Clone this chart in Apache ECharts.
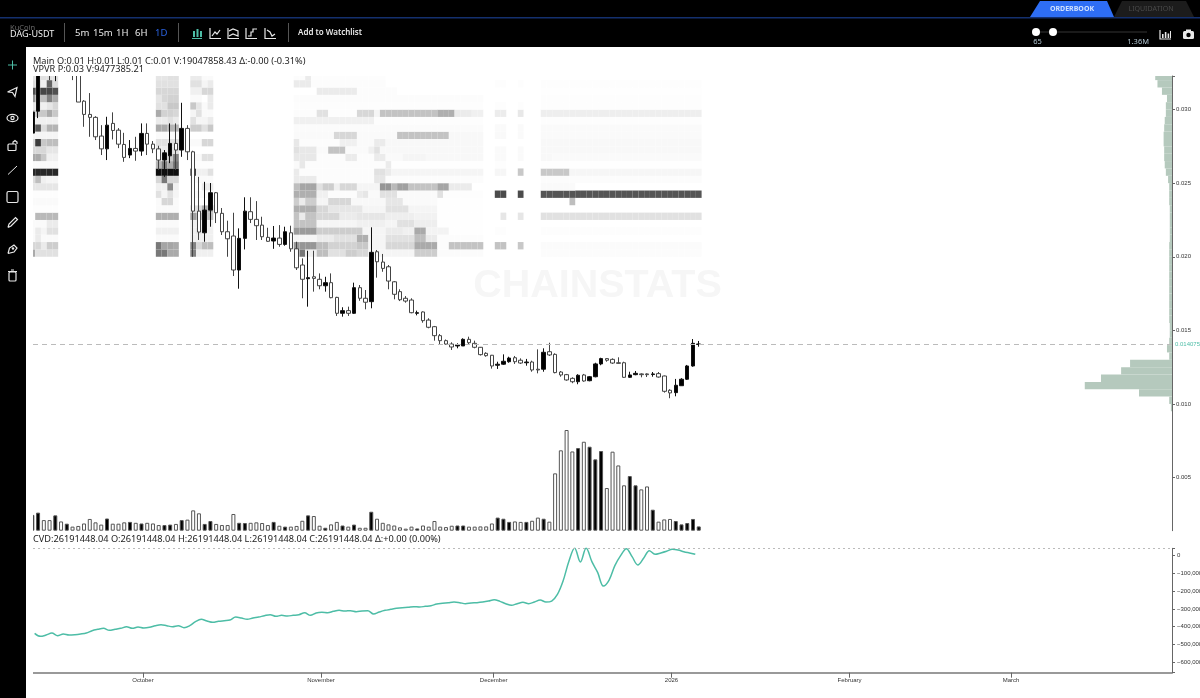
<!DOCTYPE html>
<html>
<head>
<meta charset="utf-8">
<title>DAG-USDT</title>
<style>
html, body { margin: 0; padding: 0; background: #fff; }
#chart { width: 1200px; height: 698px; }
</style>
<script src="https://cdn.jsdelivr.net/npm/echarts@6/dist/echarts.min.js"></script>
</head>
<body>
<div id="chart"></div>
<script>
// daily slots, slot 0 is the first whole candle on screen
const firstSlot = -1
const slotMin = -0.8825
const slotMax = 197.38

const monthSlots = [18.26, 49.25, 79.3, 110.26, 141.26, 169.35]
const monthLabels = ["October", "November", "December", "2026", "February", "March"]

const priceTicks = [0.005, 0.01, 0.015, 0.02, 0.025, 0.03]
const cvdTicks = [0, -100000, -200000, -300000, -400000, -500000, -600000]
const lastPrice = 0.014075

// open, close, low, high
const candles = [
    [0.02840, 0.02983, 0.02827, 0.02996],
    [0.02989, 0.03336, 0.02942, 0.03400],
    [0.03500, 0.03400, 0.03300, 0.03520],
    [0.03400, 0.03300, 0.03200, 0.03420],
    [0.03300, 0.03400, 0.03193, 0.03450],
    [0.03480, 0.03380, 0.03290, 0.03500],
    [0.03300, 0.03420, 0.03260, 0.03450],
    [0.03500, 0.03400, 0.03200, 0.03520],
    [0.03336, 0.03051, 0.03051, 0.03400],
    [0.03057, 0.02967, 0.02883, 0.03064],
    [0.02967, 0.02947, 0.02815, 0.03112],
    [0.02947, 0.02815, 0.02793, 0.02955],
    [0.02820, 0.02733, 0.02691, 0.02894],
    [0.02733, 0.02894, 0.02657, 0.02951],
    [0.02906, 0.02858, 0.02797, 0.02981],
    [0.02860, 0.02765, 0.02738, 0.02874],
    [0.02763, 0.02675, 0.02645, 0.02842],
    [0.02691, 0.02736, 0.02670, 0.02793],
    [0.02736, 0.02718, 0.02652, 0.02815],
    [0.02718, 0.02838, 0.02686, 0.02906],
    [0.02838, 0.02765, 0.02691, 0.02906],
    [0.02765, 0.02733, 0.02704, 0.02786],
    [0.02733, 0.02657, 0.02589, 0.02754],
    [0.02657, 0.02706, 0.02543, 0.02725],
    [0.02686, 0.02770, 0.02636, 0.02906],
    [0.02770, 0.02725, 0.02589, 0.02906],
    [0.02725, 0.02872, 0.02679, 0.03046],
    [0.02872, 0.02713, 0.02657, 0.02894],
    [0.02713, 0.02310, 0.02000, 0.02720],
    [0.02310, 0.02168, 0.02114, 0.02543],
    [0.02163, 0.02317, 0.02102, 0.02509],
    [0.02317, 0.02435, 0.02204, 0.02501],
    [0.02435, 0.02299, 0.02229, 0.02440],
    [0.02295, 0.02170, 0.02148, 0.02331],
    [0.02170, 0.02122, 0.02000, 0.02245],
    [0.02141, 0.01910, 0.01869, 0.02299],
    [0.01910, 0.02125, 0.01783, 0.02193],
    [0.02125, 0.02310, 0.02050, 0.02404],
    [0.02306, 0.02254, 0.02229, 0.02404],
    [0.02254, 0.02211, 0.02114, 0.02378],
    [0.02215, 0.02136, 0.02114, 0.02272],
    [0.02132, 0.02105, 0.02102, 0.02197],
    [0.02107, 0.02127, 0.02054, 0.02209],
    [0.02127, 0.02084, 0.02068, 0.02215],
    [0.02084, 0.02170, 0.02075, 0.02204],
    [0.02163, 0.02054, 0.02034, 0.02211],
    [0.02054, 0.01925, 0.01910, 0.02102],
    [0.01944, 0.01847, 0.01718, 0.01989],
    [0.01851, 0.01858, 0.01661, 0.02041],
    [0.01864, 0.01853, 0.01763, 0.02041],
    [0.01847, 0.01803, 0.01779, 0.01887],
    [0.01803, 0.01824, 0.01763, 0.01864],
    [0.01824, 0.01722, 0.01718, 0.01887],
    [0.01724, 0.01616, 0.01598, 0.01728],
    [0.01616, 0.01634, 0.01593, 0.01657],
    [0.01634, 0.01616, 0.01598, 0.01661],
    [0.01616, 0.01790, 0.01611, 0.01824],
    [0.01790, 0.01718, 0.01701, 0.01808],
    [0.01718, 0.01691, 0.01643, 0.01774],
    [0.01695, 0.02030, 0.01650, 0.02200],
    [0.02034, 0.01966, 0.01858, 0.02046],
    [0.01964, 0.01921, 0.01898, 0.02019],
    [0.01932, 0.01835, 0.01779, 0.01944],
    [0.01830, 0.01745, 0.01711, 0.01835],
    [0.01763, 0.01708, 0.01699, 0.01779],
    [0.01718, 0.01699, 0.01688, 0.01733],
    [0.01706, 0.01620, 0.01616, 0.01718],
    [0.01616, 0.01620, 0.01602, 0.01634],
    [0.01625, 0.01566, 0.01552, 0.01629],
    [0.01570, 0.01521, 0.01514, 0.01582],
    [0.01525, 0.01464, 0.01430, 0.01530],
    [0.01464, 0.01430, 0.01407, 0.01475],
    [0.01430, 0.01407, 0.01403, 0.01438],
    [0.01407, 0.01387, 0.01367, 0.01419],
    [0.01394, 0.01401, 0.01378, 0.01412],
    [0.01394, 0.01439, 0.01394, 0.01446],
    [0.01439, 0.01416, 0.01407, 0.01457],
    [0.01412, 0.01385, 0.01378, 0.01430],
    [0.01385, 0.01335, 0.01329, 0.01387],
    [0.01344, 0.01328, 0.01321, 0.01351],
    [0.01331, 0.01258, 0.01240, 0.01333],
    [0.01263, 0.01270, 0.01238, 0.01287],
    [0.01270, 0.01290, 0.01265, 0.01337],
    [0.01287, 0.01312, 0.01280, 0.01321],
    [0.01314, 0.01287, 0.01272, 0.01326],
    [0.01297, 0.01278, 0.01272, 0.01310],
    [0.01280, 0.01285, 0.01260, 0.01306],
    [0.01285, 0.01231, 0.01219, 0.01294],
    [0.01236, 0.01231, 0.01208, 0.01371],
    [0.01236, 0.01351, 0.01219, 0.01378],
    [0.01355, 0.01333, 0.01326, 0.01416],
    [0.01337, 0.01213, 0.01208, 0.01344],
    [0.01217, 0.01197, 0.01185, 0.01224],
    [0.01199, 0.01163, 0.01158, 0.01204],
    [0.01174, 0.01151, 0.01141, 0.01181],
    [0.01151, 0.01195, 0.01134, 0.01202],
    [0.01197, 0.01156, 0.01151, 0.01204],
    [0.01158, 0.01185, 0.01154, 0.01190],
    [0.01185, 0.01272, 0.01181, 0.01280],
    [0.01272, 0.01308, 0.01263, 0.01314],
    [0.01308, 0.01297, 0.01287, 0.01312],
    [0.01303, 0.01278, 0.01272, 0.01310],
    [0.01280, 0.01276, 0.01274, 0.01317],
    [0.01280, 0.01181, 0.01177, 0.01287],
    [0.01181, 0.01197, 0.01177, 0.01219],
    [0.01199, 0.01208, 0.01195, 0.01224],
    [0.01204, 0.01199, 0.01181, 0.01208],
    [0.01204, 0.01199, 0.01183, 0.01208],
    [0.01200, 0.01204, 0.01185, 0.01217],
    [0.01206, 0.01183, 0.01179, 0.01217],
    [0.01190, 0.01086, 0.01077, 0.01193],
    [0.01093, 0.01075, 0.01039, 0.01100],
    [0.01077, 0.01127, 0.01052, 0.01170],
    [0.01124, 0.01168, 0.01122, 0.01175],
    [0.01168, 0.01258, 0.01163, 0.01265],
    [0.01258, 0.01412, 0.01253, 0.01441],
    [0.01404, 0.014075, 0.01389, 0.01428],
]

// millions of DAG, one per candle
const volumes = [
    70, 80, 47, 47, 68, 41, 31, 18, 21, 32, 52, 37, 27, 54, 31, 31, 37, 39, 35, 32,
    35, 32, 25, 25, 27, 30, 47, 49, 90, 77, 30, 43, 30, 25, 25, 74, 35, 34, 35, 37,
    34, 25, 39, 22, 18, 18, 21, 44, 68, 65, 22, 13, 28, 39, 23, 18, 27, 13, 13, 84,
    53, 35, 28, 23, 15, 9, 18, 10, 23, 18, 43, 18, 16, 22, 23, 23, 18, 18, 19, 19,
    32, 58, 53, 39, 41, 39, 39, 44, 58, 53, 40, 254, 356, 446, 351, 366, 394, 372, 316, 353,
    189, 350, 289, 201, 242, 201, 183, 196, 93, 40, 50, 52, 43, 28, 34, 52, 19,
]

const cvdOffset = 0.4
const cvd = [
    -437400, -454300, -446800, -435500, -450500, -441100, -446800, -444900, -441100, -435500,
    -422300, -414800, -409200, -420500, -414800, -409200, -399800, -409200, -401700, -407400,
    -403600, -394200, -388600, -394200, -399800, -394200, -405500, -394200, -371600, -358500,
    -367900, -375400, -369800, -366000, -362300, -345400, -351000, -358500, -351000, -345400,
    -337900, -332200, -341600, -336000, -339700, -336000, -332200, -321000, -336000, -322800,
    -319100, -321000, -313400, -307800, -311600, -309700, -315400, -311600, -309700, -328500,
    -317200, -307800, -302100, -296500, -292800, -290900, -287100, -289000, -285300, -281500,
    -272100, -268400, -264600, -260900, -264600, -270200, -266500, -264600, -260900, -255200,
    -247700, -257100, -270200, -279600, -270200, -262700, -270200, -260900, -249600, -260900,
    -255200, -217700, -140700, -31700, 43400, -35500, 43400, -33600, -93700, -170700,
    -136900, -56200, 200, 39600, -5400, -52400, -14800, 28400, 7700, 15200,
    24600, 35900, 32100, 22700, 15200, 7700,
]

// volume profile, millions per 0.0005 bin, starting at 0.0095
const vpvrFirstPrice = 0.0095
const vpvrBin = 0.0005
const vpvr = [
    2, 5, 59, 156, 127, 91, 75, 5, 9, 5, 4, 4, 5, 5, 5, 5, 5, 5, 5, 5, 5,
    5, 5, 4, 4, 4, 4, 4, 5, 5, 5,
    7, 11, 13, 14, 14, 15, 15, 14, 13, 11, 11, 9, 18, 26, 30,
]

// order book depth, 25 rows of 0.0005 starting at 0.0200
const heatFirstPrice = 0.02
const heatBlockA = [
    [85, 30, 30, 30, 30], [40, 40, 20, 50, 50], [5, 20, 5, 5, 5], [5, 20, 10, 30, 30], [5, 5, 5, 20, 20],
    [0, 70, 70, 70, 70], [2, 2, 2, 2, 2], [5, 5, 5, 5, 5], [2, 2, 2, 2, 2], [25, 25, 25, 25, 25],
    [35, 65, 15, 10, 10], [215, 215, 215, 215, 215], [5, 5, 5, 5, 5], [85, 85, 55, 15, 15], [40, 40, 40, 25, 25],
    [35, 195, 55, 65, 65], [10, 10, 10, 10, 10], [25, 165, 35, 75, 75], [15, 15, 15, 15, 15], [55, 55, 55, 85, 55],
    [25, 25, 15, 25, 40], [105, 65, 65, 125, 85], [175, 155, 185, 185, 175], [35, 35, 15, 155, 35], [30, 30, 30, 30, 30],
]
const heatBlockB = [
    [135, 135, 85, 85], [135, 90, 90, 85], [5, 5, 5, 5], [15, 15, 15, 15], [5, 5, 5, 5],
    [80, 80, 80, 80], [5, 5, 5, 5], [5, 40, 40, 5], [30, 10, 30, 10], [15, 15, 115, 15],
    [40, 135, 40, 40], [240, 240, 240, 240], [75, 135, 85, 145], [30, 30, 55, 125], [20, 20, 30, 30],
    [30, 30, 30, 30], [5, 5, 5, 5], [85, 85, 75, 75], [20, 20, 30, 20], [85, 45, 45, 40],
    [30, 30, 55, 55], [25, 40, 45, 45], [40, 40, 40, 40], [30, 30, 30, 30], [25, 25, 30, 30],
]
const heatBlockC = [
    [125, 15, 15, 15], [125, 40, 65, 65], [15, 15, 15, 15], [15, 25, 15, 15], [15, 15, 15, 15],
    [95, 70, 90, 65], [30, 30, 80, 80], [0, 0, 0, 0], [5, 5, 5, 5], [0, 0, 20, 20],
    [5, 5, 5, 5], [195, 15, 15, 30], [2, 2, 2, 2], [5, 5, 30, 30], [0, 0, 0, 0],
    [5, 5, 40, 40], [0, 0, 0, 0], [50, 50, 30, 55], [30, 10, 10, 20], [10, 30, 5, 5],
    [55, 25, 5, 20], [5, 5, 0, 20], [15, 15, 40, 40], [30, 30, 10, 20], [20, 20, 5, 5],
]
const heatBlockAStart = -1
const heatBlockBStart = 21
const heatBlockCStart = 27
// [first slot, last slot, depth] runs for the long walls on the right
const heatRuns = [
    [[45, 45, 20], [46, 46, 135], [47, 48, 15], [49, 50, 65], [51, 53, 30], [54, 55, 50], [56, 57, 40], [58, 65, 10], [66, 69, 50], [70, 77, 4], [88, 115, 3]],
    [[45, 48, 105], [49, 50, 65], [51, 55, 45], [56, 57, 55], [58, 60, 10], [61, 65, 40], [66, 69, 85], [70, 71, 3], [72, 77, 60], [80, 81, 60], [84, 84, 55], [88, 115, 4]],
    [[45, 48, 10], [49, 51, 20], [52, 55, 30], [56, 57, 80], [58, 60, 10], [61, 65, 30], [66, 67, 65], [68, 69, 20], [70, 77, 3]],
    [[45, 48, 100], [49, 56, 50], [57, 60, 10], [61, 63, 20], [64, 65, 15], [66, 67, 85], [68, 71, 12], [72, 77, 1], [80, 81, 2], [88, 115, 2]],
    [[45, 48, 60], [49, 55, 10], [56, 60, 15], [61, 62, 10], [63, 65, 30], [66, 69, 17], [70, 77, 1]],
    [[45, 45, 60], [46, 46, 20], [47, 48, 60], [49, 52, 40], [53, 55, 20], [56, 60, 25], [61, 65, 17], [66, 69, 13], [70, 77, 1], [81, 81, 25], [84, 84, 25], [88, 115, 30]],
    [[45, 48, 80], [49, 50, 40], [51, 56, 25], [57, 60, 10], [61, 64, 30], [65, 69, 10], [70, 77, 1]],
    [[45, 45, 50], [46, 46, 20], [47, 48, 50], [49, 50, 10], [51, 54, 40], [55, 60, 7], [61, 63, 25], [64, 69, 5], [70, 77, 1], [93, 93, 65]],
    [[45, 48, 80], [49, 50, 15], [51, 55, 3], [56, 56, 20], [57, 57, 25], [58, 59, 5], [60, 62, 30], [63, 69, 5], [70, 70, 30], [71, 77, 2], [80, 81, 180], [84, 84, 180], [88, 115, 170]],
    [[45, 45, 65], [46, 48, 90], [49, 49, 30], [50, 51, 50], [52, 52, 15], [53, 55, 40], [56, 59, 10], [60, 61, 105], [62, 62, 70], [63, 64, 95], [65, 69, 60], [70, 71, 90], [72, 75, 20], [88, 93, 5]],
    [[45, 48, 20], [49, 55, 3], [56, 58, 3], [59, 60, 25], [61, 77, 3], [88, 115, 3]],
    [[45, 45, 20], [46, 58, 3], [59, 60, 30], [61, 61, 20], [62, 77, 10], [80, 81, 9], [84, 84, 55], [88, 92, 55], [93, 115, 9]],
    [[45, 45, 5], [46, 46, 23], [47, 60, 3], [61, 61, 20], [62, 77, 1], [80, 81, 2], [88, 115, 1]],
    [[45, 48, 23], [49, 53, 3], [54, 55, 20], [56, 58, 3], [59, 60, 20], [61, 63, 5], [64, 67, 10], [68, 77, 7], [80, 81, 5], [84, 84, 5], [88, 89, 7], [90, 115, 5]],
    [[45, 45, 30], [46, 48, 23], [49, 50, 5], [51, 53, 60], [54, 57, 5], [58, 58, 15], [59, 59, 30], [60, 77, 7], [80, 81, 5], [84, 84, 5], [88, 115, 7]],
    [[45, 45, 23], [46, 52, 3], [53, 55, 15], [56, 58, 5], [59, 60, 20], [61, 77, 7], [88, 115, 7]],
    [[45, 51, 5], [52, 55, 40], [56, 62, 5], [63, 71, 60], [72, 77, 7], [80, 81, 6], [84, 84, 5], [88, 115, 5]],
    [[45, 77, 4], [80, 81, 5], [84, 84, 5], [88, 115, 5]],
    [[45, 58, 15], [59, 77, 2], [88, 115, 2]],
    [[45, 48, 3], [49, 50, 30], [51, 55, 2], [56, 58, 40], [59, 59, 10], [60, 69, 60], [70, 72, 80], [73, 75, 20], [76, 77, 15], [80, 81, 19], [84, 84, 23], [88, 115, 17]],
    [[45, 77, 2], [80, 81, 2], [84, 84, 2], [88, 115, 2]],
    [[45, 77, 3], [88, 115, 2]],
    [[49, 55, 20], [56, 62, 3], [88, 115, 1]],
    [[45, 47, 20], [48, 60, 3], [80, 81, 2], [84, 84, 2], [88, 115, 2]],
    [[45, 46, 3], [47, 47, 20], [48, 60, 2]],
]

// axis ends, worked out from the tick positions in the picture
const priceMin = 0.00139
const priceMax = 0.03228
const volumeMax = 2014
const vpvrMax = 2037
const cvdMin = -659000
const cvdMax = 41700

const labelFont = "Liberation Sans"
const uiFont = "Noto Sans"
const teal = "#4dbda6"
const axisGrey = "#666"

function buildHeatCells() {
    let cells = []
    for (let k = 0; k < heatRuns.length; k++) {
        let low = heatFirstPrice + k * vpvrBin
        heatBlockA[k].forEach((d, c) => cells.push([heatBlockAStart + c, low, d]))
        heatBlockB[k].forEach((d, c) => cells.push([heatBlockBStart + c, low, d]))
        heatBlockC[k].forEach((d, c) => cells.push([heatBlockCStart + c, low, d]))
        heatRuns[k].forEach(run => {
            for (let s = run[0]; s <= run[1]; s++) cells.push([s, low, run[2]])
        })
    }
    return cells
}

function renderHeatCell(params, api) {
    let a = api.coord([api.value(0) - 0.5, api.value(1) + vpvrBin])
    let b = api.coord([api.value(0) + 0.5, api.value(1)])
    let shape = echarts.graphic.clipRectByRect(
        { x: a[0], y: a[1], width: b[0] - a[0], height: b[1] - a[1] },
        params.coordSys
    )
    if (!shape) return
    let g = 255 - api.value(2)
    return { type: "rect", shape: shape, style: { fill: "rgb(" + g + "," + g + "," + g + ")" } }
}

function renderVpvrBar(params, api) {
    let a = api.coord([api.value(1), api.value(0) + vpvrBin])
    let b = api.coord([0, api.value(0)])
    let shape = echarts.graphic.clipRectByRect(
        { x: a[0], y: a[1], width: b[0] - a[0], height: b[1] - a[1] },
        params.coordSys
    )
    if (!shape) return
    return { type: "rect", shape: shape, style: { fill: "#b5c9bd" } }
}

// header and tool bar are plain drawn elements
function txt(x, y, text, size, fill, align, weight) {
    return { type: "text", x: x, y: y, z: 20, silent: true, style: {
        text: text, fill: fill, align: align || "left", verticalAlign: "middle",
        font: (weight || "normal") + " " + size + "px '" + uiFont + "'",
    }}
}
function ln(x1, y1, x2, y2, color, width) {
    return { type: "line", z: 20, silent: true, shape: { x1: x1, y1: y1, x2: x2, y2: y2 },
        style: { stroke: color, lineWidth: width || 1 } }
}
function box(x, y, w, h, color, r) {
    return { type: "rect", z: 15, silent: true, shape: { x: x, y: y, width: w, height: h, r: r || 0 },
        style: { fill: color } }
}
function outline(x, y, w, h, color, r) {
    return { type: "rect", z: 20, silent: true, shape: { x: x, y: y, width: w, height: h, r: r || 0 },
        style: { fill: "transparent", stroke: color, lineWidth: 1.2 } }
}
function poly(points, color, fill) {
    return { type: fill ? "polygon" : "polyline", z: 20, silent: true, shape: { points: points },
        style: fill ? { fill: color } : { fill: "transparent", stroke: color, lineWidth: 1.2 } }
}
function dot(x, y, r, color, hollow) {
    return { type: "circle", z: 20, silent: true, shape: { cx: x, cy: y, r: r },
        style: hollow ? { fill: "transparent", stroke: color, lineWidth: 1.2 } : { fill: color } }
}

function buildChrome() {
    const white = "#e8e8e8"
    let els = [
        // candles above the grid top are not cut by the series, so keep this strip clean
        box(26, 47, 1146, 29, "#fff"),
        box(26, 47, 7, 651, "#fff"),
        box(0, 0, 1200, 47, "#000"),
        box(0, 47, 26, 651, "#000"),
        box(0, 17, 1200, 1.4, "#14306e"),
        poly([[1030, 17], [1040, 1], [1107, 1], [1114, 17]], "#2e6ef5", true),
        poly([[1114, 17], [1122, 1], [1186, 1], [1194, 17]], "#1c1c1c", true),
        txt(1072, 8.5, "ORDERBOOK", 7, "#cfe0ff", "center", "bold"),
        txt(1151, 8.5, "LIQUIDATION", 7, "#4a4a4a", "center"),
        txt(10, 27.5, "KuCoin", 7.5, "#6a6a6a"),
        txt(10, 34.5, "DAG-USDT", 9, "#f0f0f0"),
        ln(64.5, 23, 64.5, 42, "#555"),
        txt(75, 33, "5m", 9.5, white),
        txt(93, 33, "15m", 9.5, white),
        txt(116, 33, "1H", 9.5, white),
        txt(135, 33, "6H", 9.5, white),
        txt(155, 33, "1D", 9.5, "#2a62e0"),
        ln(178.5, 23, 178.5, 42, "#555"),
        ln(288.5, 23, 288.5, 42, "#555"),
        txt(298, 33, "Add to Watchlist", 8, white, "left", "600"),
        // chart type icons
        ln(192, 38.5, 202, 38.5, teal),
        box(193, 31, 2, 6, teal), box(196.5, 29, 2, 8, teal), box(200, 31, 2, 6, teal),
    ]
    els[els.length - 1].z = 20
    els[els.length - 2].z = 20
    els[els.length - 3].z = 20
    // line, area, step and baseline icons
    ;[210, 228, 246, 265].forEach((x, i) => {
        els.push(poly([[x, 28], [x, 38.5], [x + 11, 38.5]], white))
        let path = [
            [[x + 2, 36], [x + 5, 32], [x + 7, 34], [x + 10, 30]],
            [[x + 1, 31], [x + 5, 29], [x + 10, 31], [x + 10, 36], [x + 5, 34], [x + 1, 36]],
            [[x + 2, 36], [x + 5, 36], [x + 5, 32], [x + 7, 32], [x + 7, 29], [x + 11, 29]],
            [[x + 2, 30], [x + 5, 32], [x + 7, 36], [x + 10, 34]],
        ][i]
        els.push(poly(path, white))
    })
    // slider and right icons
    els.push(
        box(1036, 31, 111, 2, "#1a1a1a"),
        dot(1036, 32, 4, "#fff"), dot(1053, 32, 4, "#fff"),
        txt(1037.5, 42, "65", 7.5, "#b0c4d0", "center"),
        txt(1149, 42, "1.36M", 7.5, "#b0c4d0", "right"),
        poly([[1160, 30], [1160, 39], [1171, 39]], white),
        box(1162, 34, 1.6, 4, white), box(1164.8, 32, 1.6, 6, white), box(1167.6, 33.5, 1.6, 4.5, white), box(1170, 31, 1, 7, white),
        box(1183, 31, 11, 8, white, 1.5), box(1186, 29.5, 5, 2, white),
        dot(1188.5, 35, 2.2, "#000")
    )
    for (let i = 1; i <= 7; i++) els[els.length - i].z = 21
    // tool bar
    els.push(
        ln(8, 65, 17, 65, teal), ln(12.5, 60.5, 12.5, 69.5, teal),
        poly([[7.5, 92], [17, 87.5], [15, 96.5], [12.5, 92.5], [7.5, 92]], white),
        { type: "ellipse", z: 20, silent: true, shape: { cx: 12.5, cy: 118, rx: 5.5, ry: 3.6 }, style: { fill: "transparent", stroke: white, lineWidth: 1.2 } },
        dot(12.5, 118, 1.6, white, true),
        outline(8, 144, 8, 6.5, white, 1), poly([[13, 144], [13, 142], [15, 140.5], [17, 142], [17, 144]], white),
        ln(8, 174.5, 17, 166, white),
        outline(7, 191.5, 11, 11, white, 1.5),
        poly([[8, 227.5], [9, 224], [15.5, 217.5], [17.5, 219.5], [11, 226], [8, 227.5]], white),
        poly([[8, 253.5], [9.5, 248], [14, 245], [17, 248], [14, 252], [8, 253.5]], white),
        dot(13, 248.5, 1.2, white),
        outline(9, 272, 7, 9, white, 1), ln(8, 271.5, 17, 271.5, white), ln(11, 270, 14, 270, white)
    )
    return els
}

const headerLines = [
    "Main O:0.01 H:0.01 L:0.01 C:0.01 V:19047858.43 \u0394:-0.00 (-0.31%)",
    "VPVR P:0.03 V:9477385.21",
    "CVD:26191448.04 O:26191448.04 H:26191448.04 L:26191448.04 C:26191448.04 \u0394:+0.00 (0.00%)",
]

let chart = echarts.init(document.getElementById("chart"), null, { renderer: "canvas" })

chart.setOption({
    animation: false,
    backgroundColor: "#fff",
    grid: [
        { left: 33, right: 28, top: 76, height: 454.7, outerBoundsMode: "none" },
        { left: 33, right: 28, top: 548.3, height: 124.4, outerBoundsMode: "none" },
    ],
    xAxis: [
        { gridIndex: 0, type: "value", min: slotMin, max: slotMax, show: false, splitLine: { show: false } },
        {
            gridIndex: 1, type: "value", min: slotMin, max: slotMax, position: "bottom",
            axisLine: { onZero: false, lineStyle: { color: "#999", width: 2 } },
            axisTick: { customValues: monthSlots, length: 5, lineStyle: { color: axisGrey } },
            axisLabel: {
                customValues: monthSlots, margin: 5, color: "#333", fontSize: 6, fontFamily: labelFont,
                formatter: v => monthLabels[monthSlots.indexOf(v)],
            },
            splitLine: { show: false },
        },
        { gridIndex: 0, type: "value", min: 0, max: vpvrMax, inverse: true, show: false, splitLine: { show: false } },
    ],
    yAxis: [
        {
            gridIndex: 0, type: "value", min: priceMin, max: priceMax, position: "right",
            axisLine: { show: true, onZero: false, lineStyle: { color: axisGrey } },
            axisTick: { show: true, customValues: priceTicks.concat([priceMax]), length: 3, lineStyle: { color: axisGrey } },
            axisLabel: {
                customValues: priceTicks, margin: 4, color: "#333", fontSize: 6, fontFamily: labelFont,
                formatter: v => v.toFixed(3),
            },
            splitLine: { show: false },
        },
        { gridIndex: 0, type: "value", min: 0, max: volumeMax, show: false, splitLine: { show: false } },
        {
            gridIndex: 1, type: "value", min: cvdMin, max: cvdMax, position: "right",
            axisLine: { show: true, onZero: false, lineStyle: { color: axisGrey } },
            axisTick: { show: true, customValues: cvdTicks.concat([cvdMax, cvdMin]), length: 3, lineStyle: { color: axisGrey } },
            axisLabel: {
                customValues: cvdTicks, margin: 5, color: "#333", fontSize: 6, fontFamily: labelFont,
                formatter: v => (v < 0 ? "\u2212" : "") + Math.abs(v).toLocaleString("en-US"),
            },
            splitLine: { show: false },
        },
    ],
    series: [
        {
            name: "Depth", type: "custom", xAxisIndex: 0, yAxisIndex: 0, z: 1, silent: true,
            renderItem: renderHeatCell, encode: { x: 0, y: 1 },
            data: buildHeatCells(),
        },
        {
            name: "VPVR", type: "custom", xAxisIndex: 2, yAxisIndex: 0, z: 1, silent: true,
            renderItem: renderVpvrBar, encode: { x: 1, y: 0 },
            data: vpvr.map((v, k) => [vpvrFirstPrice + k * vpvrBin, v]),
        },
        {
            name: "Main", type: "candlestick", xAxisIndex: 0, yAxisIndex: 0, z: 3,
            barWidth: 4,
            encode: { x: 0, y: [1, 2, 3, 4] },
            itemStyle: { color: "#000", color0: "#fff", borderColor: "#111", borderColor0: "#444", borderWidth: 1 },
            data: candles.map((c, i) => [firstSlot + i, c[0], c[1], c[2], c[3]]),
            markLine: {
                silent: true, symbol: "none", animation: false, precision: 6,
                lineStyle: { color: "#bbb", type: [5, 4], width: 1 },
                label: { position: "end", formatter: "0.014075", color: teal, fontSize: 6, fontFamily: labelFont, distance: 3 },
                data: [{ yAxis: lastPrice }],
            },
        },
        {
            name: "Volume", type: "bar", xAxisIndex: 0, yAxisIndex: 1, z: 3,
            barWidth: 4,
            itemStyle: {
                color: p => candles[p.dataIndex][1] >= candles[p.dataIndex][0] ? "#000" : "#fff",
                borderColor: "#555", borderWidth: 1,
            },
            data: volumes.map((v, i) => [firstSlot + i, v]),
        },
        {
            name: "CVD", type: "line", xAxisIndex: 1, yAxisIndex: 2, z: 3,
            showSymbol: false, smooth: 0.35,
            lineStyle: { color: teal, width: 1.5 },
            data: cvd.map((v, i) => [firstSlot + i + cvdOffset, v]),
            markLine: {
                silent: true, symbol: "none", animation: false, label: { show: false },
                lineStyle: { color: "#bbb", type: [2, 3], width: 1 },
                data: [{ yAxis: cvdMax }],
            },
        },
    ],
    graphic: {
        elements: [
            { type: "text", x: 597.5, y: 286, z: 0, silent: true, style: {
                text: "CHAINSTATS", fill: "#f6f6f6", align: "center", verticalAlign: "middle",
                font: "bold 39.5px 'Liberation Sans'",
            }},
            txt(33, 61, headerLines[0], 9.2, "#222"),
            txt(33, 69.5, headerLines[1], 9.2, "#222"),
            txt(33, 539, headerLines[2], 9.2, "#222"),
        ].concat(buildChrome()),
    },
})
</script>
</body>
</html>
